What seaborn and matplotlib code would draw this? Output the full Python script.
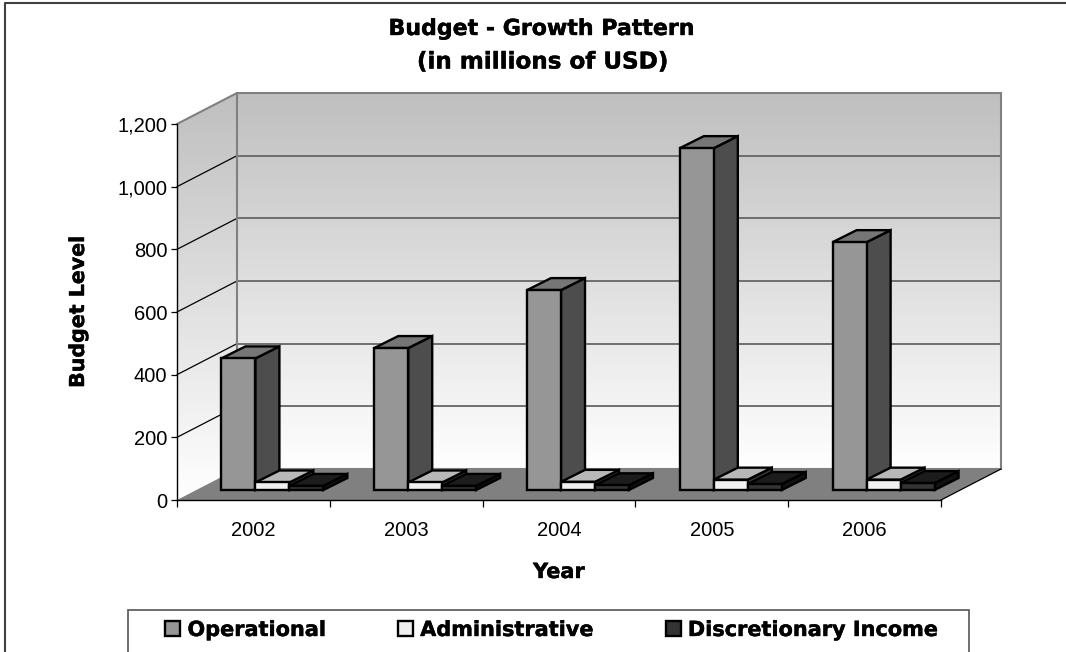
import numpy as np
import pandas as pd
import matplotlib
matplotlib.use("Agg")
import matplotlib.pyplot as plt
import matplotlib.patheffects as pe
import seaborn as sns
from matplotlib.patches import Polygon, Rectangle
from matplotlib.transforms import Affine2D, IdentityTransform

years = ["2002", "2003", "2004", "2005", "2006"]
operational = [420, 453, 638, 1091, 791]
administrative = [24, 24, 26, 33, 33]
discretionary = [13, 13, 15, 19, 22]
series_names = ["Operational", "Administrative", "Discretionary Income"]
y_ticks = [0, 200, 400, 600, 800, 1000, 1200]

front_colors = ["#969696", "#f0f0f0", "#333333"]
side_colors = ["#4d4d4d", "#3a3a3a", "#111111"]
top_colors = ["#767676", "#b8b8b8", "#1c1c1c"]

W, H = 1066, 652
sns.set_theme(style="white")
plt.rcParams["font.family"] = ["Liberation Sans", "DejaVu Sans"]
HEAVY = "DejaVu Sans"
THICK = [pe.withStroke(linewidth=0.3, foreground="black")]

df = pd.DataFrame({
    "Year": years * 3,
    "Series": sum([[n] * len(years) for n in series_names], []),
    "Budget": operational + administrative + discretionary,
})

fig = plt.figure(figsize=(W / 100, H / 100), dpi=100, facecolor="white")

# Backdrop axes whose data units are display pixels
bg = fig.add_axes([0, 0, 1, 1], zorder=0)
bg.set_xlim(0, W)
bg.set_ylim(0, H)
bg.axis("off")

ax = fig.add_axes([177 / W, (H - 500) / H, 764 / W, 376 / H], zorder=1)
ax.patch.set_alpha(0)

sns.barplot(data=df, x="Year", y="Budget", hue="Series", hue_order=series_names,
            order=years, palette=front_colors, width=0.667, gap=0, dodge=True,
            edgecolor="black", linewidth=1.7, saturation=1, errorbar=None, ax=ax)
ax.set_xlim(-0.5, 4.5)
ax.set_ylim(0, 1200)

# --- pseudo 3D geometry (pixel offsets) ---
WALL_DX, WALL_DY = 60, 31
FRONT_DX, FRONT_DY = 19, 10
BAR_DX, BAR_DY = 24, 12


def to_px(x, y):
    return ax.transData.transform((x, y))


x0, y0 = to_px(-0.5, 0)
x1, y1 = to_px(4.5, 1200)

# walls with vertical gradient
grad = np.linspace(0, 1, 256).reshape(-1, 1)
grad_cmap = matplotlib.colors.LinearSegmentedColormap.from_list(
    "wall", ["#bfbfbf", "#ffffff"])
bx0, bx1 = x0 + WALL_DX, x1 + WALL_DX
by0, by1 = y0 + WALL_DY, y1 + WALL_DY
bg.imshow(grad, cmap=grad_cmap, aspect="auto", extent=[bx0, bx1, by0, by1],
          zorder=1, vmin=0, vmax=1)
side_img = bg.imshow(grad, cmap=grad_cmap, aspect="auto",
                     extent=[x0, bx0, y0, by1], zorder=1, vmin=0, vmax=1)
side_poly = Polygon([(x0, y0), (bx0, by0), (bx0, by1), (x0, y1)],
                    closed=True, facecolor="none", edgecolor="none",
                    transform=bg.transData)
bg.add_patch(side_poly)
side_img.set_clip_path(side_poly)
bg.set_xlim(0, W)
bg.set_ylim(0, H)

# gridlines
for v in y_ticks[1:-1]:
    px, py = to_px(-0.5, v)
    bg.plot([px, px + WALL_DX], [py, py + WALL_DY], color="black", lw=0.9, zorder=3)
    bg.plot([px + WALL_DX, bx1], [py + WALL_DY] * 2, color="#666666", lw=1.3, zorder=3)

# wall outlines
bg.add_patch(Rectangle((bx0, by0), bx1 - bx0, by1 - by0, fill=False,
                       edgecolor="#808080", lw=1.5, zorder=4))
bg.plot([x0, bx0], [y1, by1], color="#808080", lw=1.5, zorder=4)

# floor
bg.add_patch(Polygon([(x0, y0), (x1, y0), (bx1, by0), (bx0, by0)], closed=True,
                     facecolor="#808080", edgecolor="none", zorder=5))
bg.plot([x1, bx1], [y0, by0], color="black", lw=0.9, zorder=6)

# bars: shift the front faces and add their side and top faces
shift = Affine2D().translate(FRONT_DX, FRONT_DY)
for i, cont in enumerate(ax.containers):
    for bar in cont.patches:
        xa = bar.get_x()
        xb = xa + bar.get_width()
        v = bar.get_height()
        bar.set_transform(ax.transData + shift)
        bar.set_clip_on(False)
        bar.set_zorder(5 + i + 0.5)
        (pxa, pya) = to_px(xa, 0) + np.array([FRONT_DX, FRONT_DY])
        (pxb, pyt) = to_px(xb, v) + np.array([FRONT_DX, FRONT_DY])
        side = Polygon([(pxb, pya), (pxb + BAR_DX, pya + BAR_DY),
                        (pxb + BAR_DX, pyt + BAR_DY), (pxb, pyt)], closed=True,
                       facecolor=side_colors[i], edgecolor="black", lw=1.7,
                       transform=IdentityTransform(), clip_on=False, zorder=5 + i)
        top = Polygon([(pxa, pyt), (pxb, pyt), (pxb + BAR_DX, pyt + BAR_DY),
                       (pxa + BAR_DX, pyt + BAR_DY)], closed=True,
                      facecolor=top_colors[i], edgecolor="black", lw=1.7,
                      transform=IdentityTransform(), clip_on=False, zorder=5 + i + 0.1)
        ax.add_patch(side)
        ax.add_patch(top)

# axes
sns.despine(ax=ax, top=True, right=True)
for s in ("left", "bottom"):
    ax.spines[s].set_color("black")
    ax.spines[s].set_linewidth(1.0)
    ax.spines[s].set_zorder(20)
ax.set_yticks(y_ticks)
ax.set_yticklabels([f"{v:,}" for v in y_ticks])
ax.set_xticks(np.arange(-0.5, 5, 1))
ax.set_xticklabels([""] * 6)
ax.set_xticks(range(len(years)), labels=years, minor=True)
ax.tick_params(axis="y", which="major", left=True, length=4, width=0.9, color="black",
               labelsize=14.5, labelcolor="black", pad=3)
ax.tick_params(axis="x", which="major", bottom=True, length=5, width=0.9, color="black")
ax.tick_params(axis="x", which="minor", bottom=False, length=0, labelsize=14.5,
               labelcolor="black", pad=15)

ax.set_xlabel("Year", fontfamily=HEAVY, fontweight="bold", fontsize=15, color="black",
              path_effects=THICK)
ax.set_ylabel("Budget Level", fontfamily=HEAVY, fontweight="bold", fontsize=14.8,
              color="black", path_effects=THICK)
ax.xaxis.set_label_coords((559 - 177) / 764, (500 - 572) / 376)
ax.xaxis.label.set_verticalalignment("center")
ax.yaxis.set_label_coords((78 - 177) / 764, (500 - 312) / 376)
ax.yaxis.label.set_verticalalignment("center")

fig.text(542 / W, (H - 29) / H, "Budget - Growth Pattern", ha="center", va="center",
         fontfamily=HEAVY, fontweight="bold", fontsize=15.9, color="black",
         path_effects=THICK)
fig.text(542 / W, (H - 62) / H, "(in millions of USD)", ha="center", va="center",
         fontfamily=HEAVY, fontweight="bold", fontsize=16.6, color="black",
         path_effects=THICK)

# legend
bg.add_patch(Rectangle((128, -10), 969 - 128, H - 610 + 10, facecolor="white",
                       edgecolor="#555555", lw=1.2, zorder=2))
leg = ax.legend(loc="center", bbox_to_anchor=(552 / W, (H - 630) / H),
                bbox_transform=fig.transFigure, ncol=3, frameon=False,
                handlelength=0.72, handleheight=0.72, handletextpad=0.34,
                columnspacing=3.45, title=None,
                prop={"family": HEAVY, "weight": "bold", "size": 15})
for t in leg.get_texts():
    t.set_color("black")
    t.set_path_effects(THICK)

# chart area border: top and left edges only
bg.plot([4.5, 4.5, W], [-10, H - 3, H - 3], color="#404040", lw=1.5, zorder=2)

fig.savefig("out.png", dpi=100)
